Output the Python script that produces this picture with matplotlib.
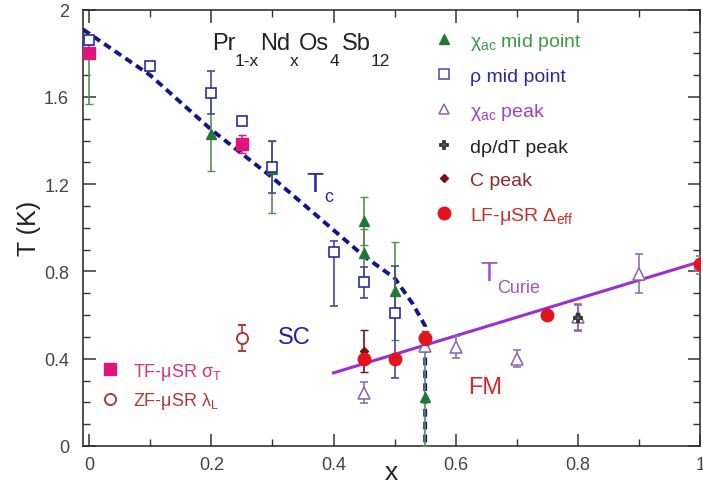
import matplotlib
matplotlib.use("Agg")
import matplotlib.pyplot as plt
from matplotlib.lines import Line2D
from matplotlib.ticker import MultipleLocator, FuncFormatter
from matplotlib.transforms import offset_copy
import numpy as np

plt.rcParams['font.family'] = ['Liberation Sans', 'DejaVu Sans']
plt.rcParams['mathtext.fontset'] = 'custom'
plt.rcParams['mathtext.rm'] = 'Liberation Sans'
plt.rcParams['mathtext.it'] = 'Liberation Sans:italic'
plt.rcParams['mathtext.bf'] = 'Liberation Sans:bold'

# ---- data ----
chi_mid_x = [0.0, 0.2, 0.3, 0.45, 0.45, 0.5, 0.55]
chi_mid_T = [1.80, 1.43, 1.27, 1.03, 0.885, 0.71, 0.225]
chi_mid_lo = [0.23, 0.17, 0.20, 0.11, 0.11, 0.225, 0.225]
chi_mid_hi = [0.05, 0.17, 0.13, 0.11, 0.11, 0.225, 0.25]

rho_mid_x = [0.0, 0.1, 0.2, 0.25, 0.3, 0.4, 0.45, 0.5]
rho_mid_T = [1.86, 1.74, 1.62, 1.49, 1.28, 0.89, 0.75, 0.61]
rho_mid_lo = [0.02, 0.02, 0.10, 0.02, 0.12, 0.25, 0.07, 0.30]
rho_mid_hi = [0.02, 0.02, 0.10, 0.02, 0.12, 0.05, 0.07, 0.215]

chi_peak_x = [0.45, 0.55, 0.6, 0.7, 0.8, 0.9, 1.0]
chi_peak_T = [0.245, 0.46, 0.455, 0.40, 0.59, 0.79, 0.83]
chi_peak_err = [0.05, 0.03, 0.05, 0.04, 0.06, 0.09, 0.04]

drho_x = [0.8]
drho_T = [0.585]
drho_err = [0.06]

cpeak_x = [0.45]
cpeak_T = [0.435]
cpeak_err = [0.095]

lf_x = [0.45, 0.5, 0.55, 0.75, 1.0]
lf_T = [0.40, 0.40, 0.495, 0.60, 0.835]
lf_err = [0.0, 0.0, 0.03, 0.0, 0.0]

tf_x = [0.0, 0.25]
tf_T = [1.80, 1.385]
tf_err = [0.0, 0.04]

zf_x = [0.25]
zf_T = [0.495]
zf_err = [0.06]

tc_x = [-0.01, 0.1, 0.2, 0.3, 0.4, 0.45, 0.5, 0.53, 0.55, 0.55]
tc_T = [1.91, 1.70, 1.45, 1.23, 0.99, 0.87, 0.77, 0.65, 0.55, 0.0]

curie_x = [0.4, 1.0]
curie_T = [0.335, 0.845]

# ---- colours ----
c_green = '#1e7a32'
c_green_bar = '#5b8a5b'
c_green_txt = '#3a9a48'
c_blue = '#2c2c9c'
c_blue_bar = '#4a4a90'
c_blue_txt = '#2a2aa8'
c_purple = '#8a64b0'
c_purple_txt = '#a040d0'
c_black = '#222222'
c_cpeak = '#7a1010'
c_cpeak_txt = '#8a2a2a'
c_red = '#e3141c'
c_red_txt = '#c8302e'
c_pink = '#e0147c'
c_pink_txt = '#d23480'
c_brown = '#b03a36'
c_navy = '#14148a'
c_curie = '#9a2fd2'

fig = plt.figure(figsize=(7.03, 4.89), dpi=100)
ax = fig.add_axes([0.118, 0.086, 0.878, 0.892])

# axes limits first (needed for text chaining)
ax.set_xlim(-0.01, 1.0)
ax.set_ylim(0, 2)

# lines
ax.plot(tc_x, tc_T, color=c_navy, lw=2.8, linestyle=(0, (2.0, 1.3)), zorder=3)
ax.plot(curie_x, curie_T, color=c_curie, lw=2.2, zorder=3)

# data
ax.errorbar(chi_mid_x, chi_mid_T, yerr=[chi_mid_lo, chi_mid_hi], fmt='^', ms=7,
            color=c_green, ecolor=c_green_bar, elinewidth=1.2, capsize=3, zorder=4)
ax.errorbar(rho_mid_x, rho_mid_T, yerr=[rho_mid_lo, rho_mid_hi], fmt='s', ms=7,
            mfc='white', mec=c_blue, mew=1.2, ecolor=c_blue_bar, elinewidth=1.2,
            capsize=3, zorder=4)
ax.errorbar(chi_peak_x, chi_peak_T, yerr=chi_peak_err, fmt='^', ms=8,
            mfc='white', mec=c_purple, mew=1.1, ecolor=c_purple, elinewidth=1.1,
            capsize=3, zorder=4)
ax.errorbar(drho_x, drho_T, yerr=drho_err, fmt='P', ms=6, mfc='white',
            mec=c_black, mew=1.2, ecolor=c_purple, elinewidth=1.1, capsize=3, zorder=5)
ax.errorbar(cpeak_x, cpeak_T, yerr=cpeak_err, fmt='D', ms=4.5, color=c_cpeak,
            ecolor=c_cpeak, elinewidth=1.2, capsize=3, zorder=5)
ax.errorbar(lf_x, lf_T, yerr=lf_err, fmt='o', ms=9, color=c_red, ecolor='#6a4a6a',
            elinewidth=1.1, capsize=3, zorder=6)
ax.errorbar(tf_x, tf_T, yerr=tf_err, fmt='s', ms=9, color=c_pink, ecolor=c_pink,
            elinewidth=1.1, capsize=3, zorder=5)
ax.errorbar(zf_x, zf_T, yerr=zf_err, fmt='o', ms=8, mfc='white', mec=c_brown,
            mew=1.4, ecolor=c_brown, elinewidth=1.2, capsize=3, zorder=5)

# chained text with deep subscripts
renderer = fig.canvas.get_renderer()


def chain(x, y, parts, color):
    """parts: list of (string, fontsize, dy_pixels, gap_pixels_before)"""
    off = 0.0
    for s, fs, dy, gap in parts:
        off += gap
        tr = offset_copy(ax.transData, fig=fig, x=off, y=dy, units='dots')
        t = ax.text(x, y, s, transform=tr, fontsize=fs, color=color,
                    ha='left', va='baseline')
        off += t.get_window_extent(renderer=renderer).width


chain(0.202, 1.82, [('Pr', 17, 0, 0), ('1-x', 12.5, -16, -1), ('Nd', 17, 0, 1),
                    ('x', 12.5, -16, -1), ('Os', 17, 0, 1), ('4', 12.5, -16, 0),
                    ('Sb', 17, 0, 3), ('12', 12.5, -16, 0)], '#222222')
chain(0.356, 1.17, [('T', 20, 0, 0), ('c', 13, -10, 1)], c_blue_txt)
chain(0.640, 0.76, [('T', 20, 0, 0), ('Curie', 13, -12, 0)], '#a055cc')
ax.text(0.335, 0.50, 'SC', fontsize=17, color='#1f1f9c', va='center', ha='center')
ax.text(0.648, 0.27, 'FM', fontsize=17, color='#d8262a', va='center', ha='center')

# legends
h1 = [Line2D([], [], marker='^', ls='none', ms=7, color=c_green),
      Line2D([], [], marker='s', ls='none', ms=7, mfc='white', mec=c_blue_bar, mew=1.1),
      Line2D([], [], marker='^', ls='none', ms=7, mfc='white', mec=c_purple, mew=1.1),
      Line2D([], [], marker='P', ls='none', ms=5.5, mfc='white', mec=c_black, mew=1.2),
      Line2D([], [], marker='D', ls='none', ms=4, color=c_cpeak),
      Line2D([], [], marker='o', ls='none', ms=9, color=c_red)]
l1 = [r'$\mathrm{χ}_{\mathrm{ac}}$ mid point', 'ρ mid point',
      r'$\mathrm{χ}_{\mathrm{ac}}$ peak', 'dρ/dT peak', 'C peak',
      r'$\mathrm{LF\text{-}μSR\ Δ}_{\mathrm{eff}}$']
c1 = [c_green_txt, c_blue_txt, c_purple_txt, c_black, c_cpeak_txt, c_red_txt]
leg1 = ax.legend(h1, l1, loc='upper left', bbox_to_anchor=(0.556, 0.97),
                 frameon=False, fontsize=14, handlelength=1.0, handletextpad=0.85,
                 labelspacing=0.82, borderaxespad=0)
for t, c in zip(leg1.get_texts(), c1):
    t.set_color(c)
ax.add_artist(leg1)

h2 = [Line2D([], [], marker='s', ls='none', ms=8, color=c_pink),
      Line2D([], [], marker='o', ls='none', ms=8, mfc='white', mec=c_brown, mew=1.4)]
l2 = [r'$\mathrm{TF\text{-}μSR\ σ}_{\mathrm{T}}$', r'$\mathrm{ZF\text{-}μSR\ λ}_{\mathrm{L}}$']
c2 = [c_pink_txt, c_brown]
leg2 = ax.legend(h2, l2, loc='upper left', bbox_to_anchor=(0.018, 0.212),
                 frameon=False, fontsize=13, handlelength=1.0, handletextpad=0.75,
                 labelspacing=0.45, borderaxespad=0)
for t, c in zip(leg2.get_texts(), c2):
    t.set_color(c)

# axes
ax.xaxis.set_major_locator(MultipleLocator(0.2))
ax.xaxis.set_minor_locator(MultipleLocator(0.1))
ax.yaxis.set_major_locator(MultipleLocator(0.4))
ax.yaxis.set_minor_locator(MultipleLocator(0.1))
ax.xaxis.set_major_formatter(FuncFormatter(lambda v, p: ('%g' % round(v, 2))))
ax.yaxis.set_major_formatter(FuncFormatter(lambda v, p: ('%g' % round(v, 2))))
ax.tick_params(which='both', direction='in', top=True, right=True, colors='#333333',
               labelcolor='#444444', labelsize=13)
ax.tick_params(which='major', length=9, width=1.1, pad=7)
ax.tick_params(axis='y', which='major', pad=10)
ax.tick_params(which='minor', length=5, width=1.0)
for s in ax.spines.values():
    s.set_color('#333333')
    s.set_linewidth(1.2)

ax.set_xlabel('x', fontsize=19, color='#222222', labelpad=-9)
ax.set_ylabel('T (K)', fontsize=18, color='#222222', labelpad=2)

fig.savefig('out.png', dpi=100)
